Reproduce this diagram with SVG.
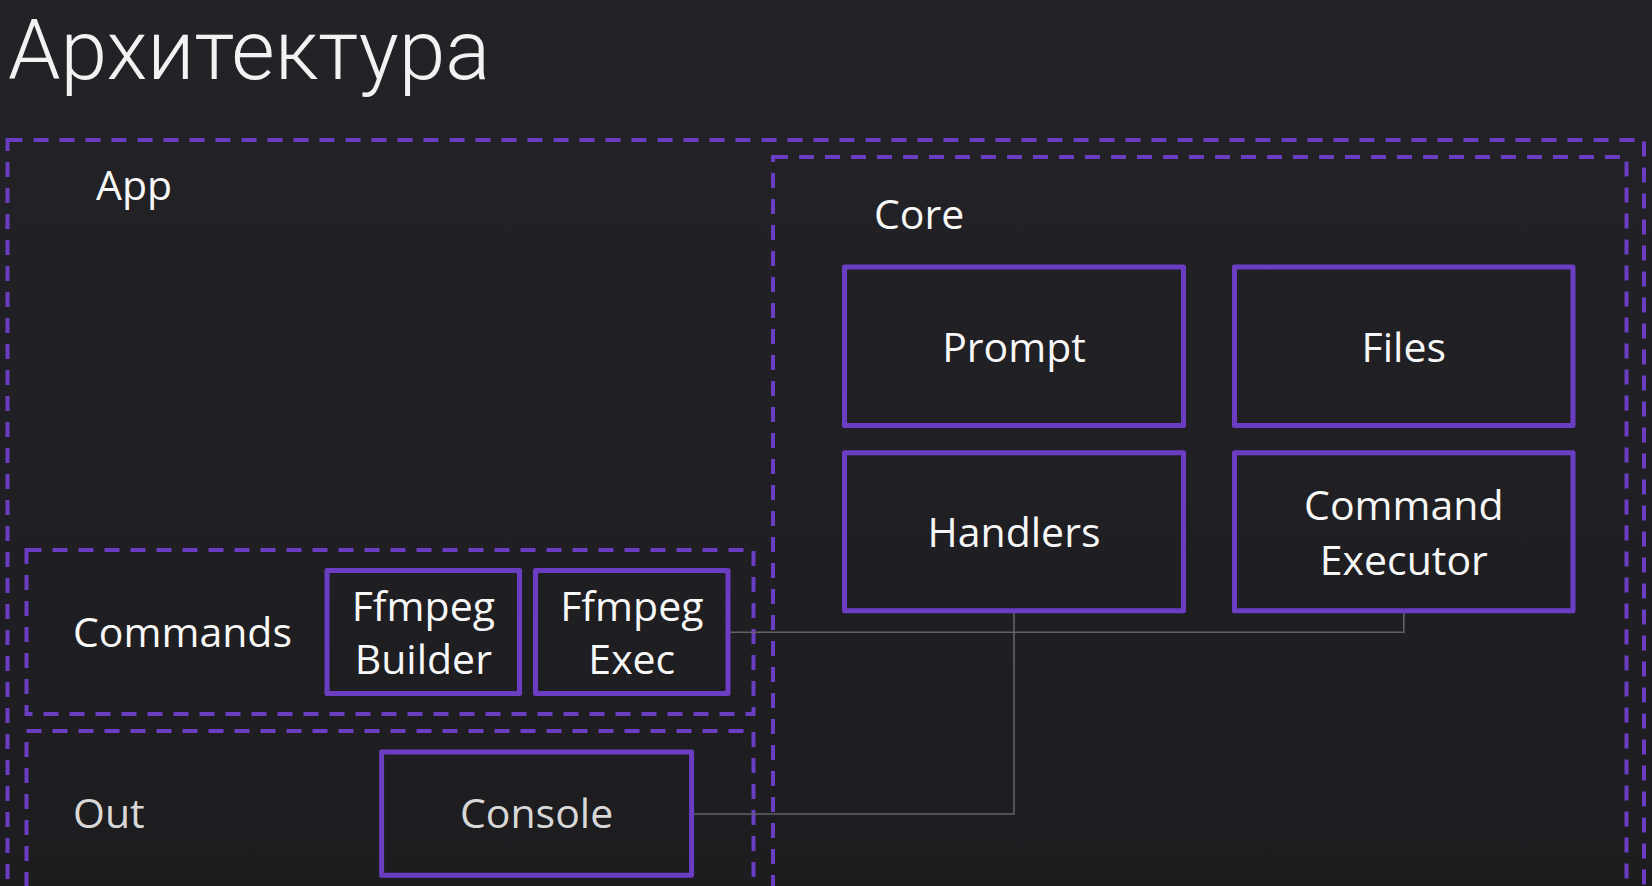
<svg xmlns="http://www.w3.org/2000/svg" width="1652" height="886" viewBox="0 0 1652 886">
  <defs>
    <linearGradient id="bg" x1="0" y1="0" x2="0" y2="1">
      <stop offset="0" stop-color="#232227"/>
      <stop offset="1" stop-color="#1d1d20"/>
    </linearGradient>
    <style>
      .group { fill: none; stroke: #6a3dc2; stroke-width: 4; stroke-dasharray: 15 11; }
      .node { fill: none; stroke: #6a3dc2; stroke-width: 5; stroke-linejoin: round; }
      .label { font-family: "Open Sans", "Liberation Sans", sans-serif; font-size: 41px; fill: #f7f7f7; }
      .ntext { font-family: "Open Sans", "Liberation Sans", sans-serif; font-size: 41px; fill: #f7f7f7; text-anchor: middle; }
      .dim { fill: #d8d8d8; }
      .conn { fill: none; stroke: #636266; stroke-width: 1.6; }
    </style>
  </defs>
  <rect x="0" y="0" width="1652" height="886" fill="url(#bg)"/>

  <text x="8" y="79" font-family="Roboto, 'Open Sans', sans-serif" font-weight="300" font-size="84" fill="#f2f2f2">Архитектура</text>

  <g id="app">
    <rect class="group" x="7.5" y="140" width="1636.5" height="800"/>
    <text class="label" x="96" y="200">App</text>
  </g>
  <g id="core">
    <rect class="group" x="773" y="157" width="853.5" height="800"/>
    <text class="label" x="874" y="228.5">Core</text>
  </g>
  <g id="commands">
    <rect class="group" x="26.5" y="550" width="727" height="164"/>
    <text class="label" x="73" y="647.3">Commands</text>
  </g>
  <g id="out">
    <rect class="group" x="26.5" y="731" width="727" height="300"/>
    <text class="label dim" x="73" y="828.3">Out</text>
  </g>

  <g id="connectors">
    <path class="conn" d="M730,632.3 H1403.8 V613"/>
    <path class="conn" d="M1014,613 V814 H694"/>
  </g>

  <g id="prompt">
    <rect class="node" x="844.5" y="267" width="339" height="158.5"/>
    <text class="ntext" x="1014" y="361.7">Prompt</text>
  </g>
  <g id="files">
    <rect class="node" x="1234.5" y="267" width="338.5" height="158.5"/>
    <text class="ntext" x="1403.8" y="361.7">Files</text>
  </g>
  <g id="handlers">
    <rect class="node" x="844.5" y="452.7" width="339" height="158"/>
    <text class="ntext" x="1014" y="547.3">Handlers</text>
  </g>
  <g id="command-executor">
    <rect class="node" x="1234.5" y="452.7" width="338.5" height="158"/>
    <text class="ntext" x="1403.8" y="520">Command</text>
    <text class="ntext" x="1403.8" y="575">Executor</text>
  </g>
  <g id="ffmpeg-builder">
    <rect class="node" x="327" y="570.5" width="192.5" height="123"/>
    <text class="ntext" x="423.3" y="620.7">Ffmpeg</text>
    <text class="ntext" x="423.3" y="674">Builder</text>
  </g>
  <g id="ffmpeg-exec">
    <rect class="node" x="535.5" y="570.5" width="192.5" height="123"/>
    <text class="ntext" x="631.8" y="620.7">Ffmpeg</text>
    <text class="ntext" x="631.8" y="674">Exec</text>
  </g>
  <g id="console">
    <rect class="node" x="381.6" y="752" width="310" height="123.3"/>
    <text class="ntext dim" x="536.6" y="828.3">Console</text>
  </g>
</svg>
